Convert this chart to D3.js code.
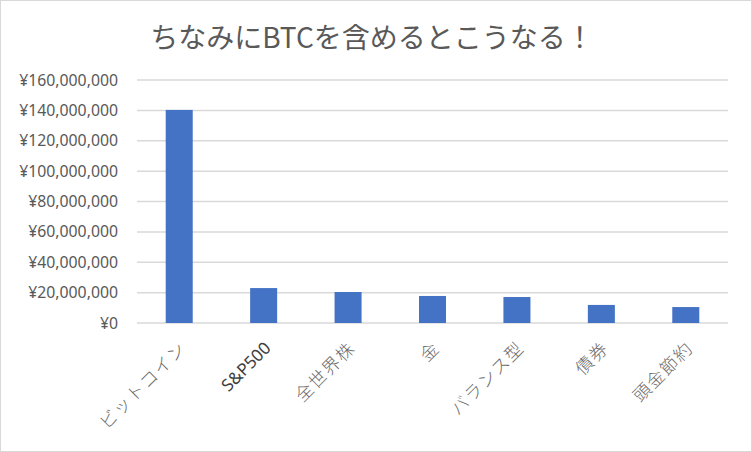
<!DOCTYPE html>
<html>
<head>
<meta charset="utf-8">
<script src="https://cdn.jsdelivr.net/npm/d3@7"></script>
<style>
  html, body { margin: 0; padding: 0; background: #fff; }
  svg { display: block; font-family: "Noto Sans CJK JP", "Noto Sans", sans-serif; }
</style>
</head>
<body>
<div id="chart"></div>
<script>
// Chart data
const categories = ['ビットコイン', 'S&P500', '全世界株', '金', 'バランス型', '債券', '頭金節約'];
const values = [140300000, 23000000, 20400000, 17800000, 17100000, 11900000, 10500000];
const yTicks = [0, 20000000, 40000000, 60000000, 80000000, 100000000, 120000000, 140000000, 160000000];
const titleText = 'ちなみにBTCを含めるとこうなる！';

const width = 752, height = 452;
const margin = {top: 80, right: 24, bottom: 129, left: 137};

const svg = d3.select('#chart').append('svg')
    .attr('width', width)
    .attr('height', height);

// Outer border
svg.append('rect')
    .attr('x', 0.5).attr('y', 0.5)
    .attr('width', width - 1).attr('height', height - 1)
    .attr('fill', '#fff')
    .attr('stroke', '#d9d9d9');

const x = d3.scaleBand()
    .domain(categories)
    .range([margin.left, width - margin.right])
    .paddingInner(0.68)
    .paddingOuter(0.34);

const y = d3.scaleLinear()
    .domain([0, 160000000])
    .range([height - margin.bottom, margin.top]);

// Gridlines
svg.append('g')
    .selectAll('line')
    .data(yTicks)
    .enter()
    .append('line')
    .attr('x1', margin.left)
    .attr('x2', width - margin.right)
    .attr('y1', d => y(d))
    .attr('y2', d => y(d))
    .attr('stroke', '#d9d9d9')
    .attr('stroke-width', 1.5);

// Y axis labels
const yAxis = d3.axisLeft(y)
    .tickValues(yTicks)
    .tickSize(0)
    .tickPadding(19)
    .tickFormat(d => '¥' + d3.format(',')(d));

svg.append('g')
    .attr('transform', `translate(${margin.left}, 0)`)
    .call(yAxis)
    .call(g => g.select('.domain').remove())
    .selectAll('text')
    .attr('fill', '#595959')
    .style('font-family', '"Noto Sans", sans-serif')
    .style('font-size', '15.8px');

// Bars
svg.append('g')
    .selectAll('rect')
    .data(values)
    .enter()
    .append('rect')
    .attr('x', (d, i) => x(categories[i]))
    .attr('y', d => y(d))
    .attr('width', x.bandwidth())
    .attr('height', d => y(0) - y(d))
    .attr('fill', '#4472c4');

// X axis labels, rotated
const xAxis = d3.axisBottom(x).tickSize(0).tickPadding(0);
svg.append('g')
    .attr('transform', `translate(0, ${y(0)})`)
    .call(xAxis)
    .call(g => g.select('.domain').remove())
    .selectAll('text')
    .attr('fill', d => d === 'S&P500' ? '#404040' : '#6a6a6a')
    .style('font-size', d => d === 'S&P500' ? '17px' : '17.5px')
    .style('letter-spacing', d => d === 'S&P500' ? '0px' : '1.5px')
    .style('font-family', d => d === 'S&P500' ? '"Noto Sans", sans-serif' : '"Noto Sans CJK JP", sans-serif')
    .style('font-weight', d => d === 'S&P500' ? '400' : '300')
    .attr('text-anchor', 'end')
    .attr('dy', '0.35em')
    .attr('transform', 'translate(4, 22) rotate(-45)');

// Title
svg.append('text')
    .attr('x', 372)
    .attr('y', 48)
    .attr('text-anchor', 'middle')
    .attr('fill', '#595959')
    .style('font-size', '28px')
    .text(titleText);
</script>
</body>
</html>
